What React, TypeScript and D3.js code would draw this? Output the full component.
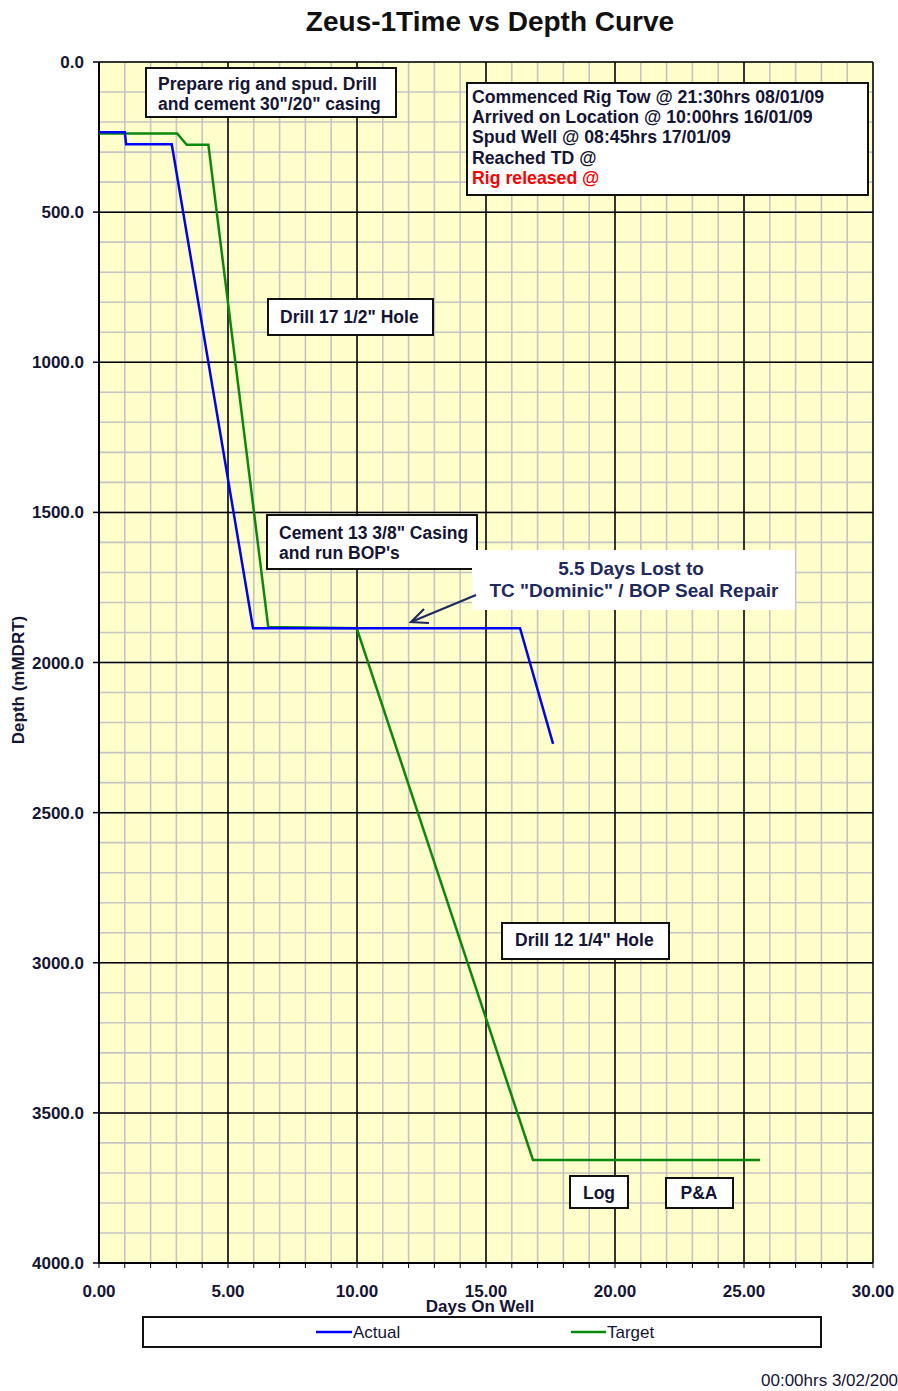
import * as d3 from "d3";

// Days on well / depth (mMDRT)
const actualDays = [0, 1.0, 1.05, 2.82, 5.97, 16.32, 17.6];
const actualDepth = [234, 234, 274, 274, 1886, 1886, 2271];

const targetDays = [0, 3.03, 3.4, 4.24, 6.56, 9.99, 16.82, 25.62];
const targetDepth = [238, 238, 276, 276, 1882, 1886, 3657, 3657];

const xTicks = [0, 5, 10, 15, 20, 25, 30];
const yTicks = [0, 500, 1000, 1500, 2000, 2500, 3000, 3500, 4000];

const infoLines = [
  "Commenced Rig Tow @ 21:30hrs 08/01/09",
  "Arrived on Location @ 10:00hrs 16/01/09",
  "Spud Well @ 08:45hrs 17/01/09",
  "Reached TD @",
  "Rig released @",
];

const W = 898;
const H = 1391;
const margin = { left: 99, top: 62, right: 25, bottom: 126 };
const FONT = "'Liberation Sans', Arial, sans-serif";
const TXT = "#151535";

// boxed notes: [x, y, w, h, lines, textX, first baseline]
const notes: [number, number, number, number, string[], number, number][] = [
  [146, 68, 250, 49, ["Prepare rig and spud. Drill", 'and cement 30"/20" casing'], 158, 90],
  [268, 299, 165, 36, ['Drill 17 1/2" Hole'], 280, 323],
  [267, 515, 210, 54, ['Cement 13 3/8" Casing', "and run BOP's"], 279, 539],
  [502, 923, 167, 36, ['Drill 12 1/4" Hole'], 515, 946],
];

export default function App() {
  const x = d3.scaleLinear().domain([0, 30]).range([margin.left, W - margin.right]);
  const y = d3.scaleLinear().domain([0, 4000]).range([margin.top, H - margin.bottom - 2]);
  const [x0, x1] = x.range();
  const [y0, y1] = y.range();

  const minorX = d3.range(0, 31, 1);
  const minorY = d3.range(0, 4001, 100);

  const line = d3
    .line<[number, number]>()
    .x((d) => x(d[0]))
    .y((d) => y(d[1]));
  const actual = actualDays.map((d, i) => [d, actualDepth[i]] as [number, number]);
  const target = targetDays.map((d, i) => [d, targetDepth[i]] as [number, number]);

  return (
    <svg
      width={W}
      height={H}
      style={{ position: "absolute", left: 0, top: 0, background: "#fff" }}
      fontFamily={FONT}
    >
      <text x={490} y={31} textAnchor="middle" fontSize={28} fontWeight="bold" fill="#111">
        Zeus-1Time vs Depth Curve
      </text>

      <rect x={x0} y={y0} width={x1 - x0} height={y1 - y0} fill="#ffffcc" />
      {minorX.map((d) => (
        <line key={"mx" + d} x1={x(d)} x2={x(d)} y1={y0} y2={y1} stroke="#c4c4c4" strokeWidth={1.6} />
      ))}
      {minorY.map((d) => (
        <line key={"my" + d} x1={x0} x2={x1} y1={y(d)} y2={y(d)} stroke="#c4c4c4" strokeWidth={1.6} />
      ))}
      {xTicks.map((d) => (
        <line key={"Mx" + d} x1={x(d)} x2={x(d)} y1={y0} y2={y1} stroke="#000" strokeWidth={1.5} />
      ))}
      {yTicks.map((d) => (
        <line key={"My" + d} x1={x0} x2={x1} y1={y(d)} y2={y(d)} stroke="#000" strokeWidth={1.5} />
      ))}
      {/* axes */}
      <line x1={x0} x2={x0} y1={y0} y2={y1 + 1} stroke="#000" strokeWidth={2} />
      <line x1={x0} x2={x1} y1={y1} y2={y1} stroke="#000" strokeWidth={2} />
      {minorX.map((d) => (
        <line key={"tx" + d} x1={x(d)} x2={x(d)} y1={y1} y2={y1 + 5} stroke="#000" strokeWidth={1} />
      ))}
      {yTicks.map((d) => (
        <g key={"ty" + d}>
          <line x1={x0 - 6} x2={x0} y1={y(d)} y2={y(d)} stroke="#000" strokeWidth={1.5} />
          <text x={84} y={y(d) + 6} textAnchor="end" fontSize={17} fontWeight="bold" fill={TXT}>
            {d3.format(".1f")(d)}
          </text>
        </g>
      ))}
      {xTicks.map((d) => (
        <text key={"lx" + d} x={x(d)} y={1297} textAnchor="middle" fontSize={17} fontWeight="bold" fill={TXT}>
          {d3.format(".2f")(d)}
        </text>
      ))}
      <text x={480} y={1312} textAnchor="middle" fontSize={17} fontWeight="bold" fill={TXT}>
        Days On Well
      </text>
      <text transform="translate(24,680) rotate(-90)" textAnchor="middle" fontSize={17} fontWeight="bold" fill={TXT}>
        Depth (mMDRT)
      </text>

      {/* series */}
      <path d={line(target) ?? ""} fill="none" stroke="#0a8a0a" strokeWidth={2.5} />
      <path d={line(actual) ?? ""} fill="none" stroke="#0000ff" strokeWidth={2.5} />

      {/* notes */}
      {notes.map(([bx, by, bw, bh, lines, tx, ty], i) => (
        <g key={"n" + i}>
          <rect x={bx} y={by} width={bw} height={bh} fill="#fff" stroke="#111" strokeWidth={2} />
          {lines.map((t, j) => (
            <text key={j} x={tx} y={ty + j * 20} fontSize={17.5} fontWeight="bold" fill={TXT}>
              {t}
            </text>
          ))}
        </g>
      ))}
      <rect x={570} y={1176} width={58} height={32} fill="#fff" stroke="#111" strokeWidth={2} />
      <text x={599} y={1199} textAnchor="middle" fontSize={17.5} fontWeight="bold" fill={TXT}>
        Log
      </text>
      <rect x={666} y={1178} width={67} height={30} fill="#fff" stroke="#111" strokeWidth={2} />
      <text x={699} y={1199} textAnchor="middle" fontSize={17.5} fontWeight="bold" fill={TXT}>
        P&amp;A
      </text>

      {/* info box */}
      <rect x={467} y={83} width={401} height={112} fill="#fff" stroke="#111" strokeWidth={2} />
      {infoLines.map((t, i) => (
        <text
          key={"i" + i}
          x={472}
          y={103 + i * 20.2}
          fontSize={17.7}
          fontWeight="bold"
          fill={i === infoLines.length - 1 ? "#ff0000" : TXT}
        >
          {t}
        </text>
      ))}

      {/* lost days callout */}
      <rect x={472} y={550} width={323} height={60} fill="#fff" />
      <text x={631} y={575} textAnchor="middle" fontSize={19} fontWeight="bold" fill="#1f2a5e">
        5.5 Days Lost to
      </text>
      <text x={634} y={597} textAnchor="middle" fontSize={19} fontWeight="bold" fill="#1f2a5e">
        TC "Dominic" / BOP Seal Repair
      </text>
      <line x1={476} y1={595} x2={411} y2={622} stroke="#1f2a5e" strokeWidth={2.2} />
      <path d="M424,609 L411,622 L429,623" fill="none" stroke="#1f2a5e" strokeWidth={2.2} />

      {/* legend */}
      <rect x={143} y={1317} width={678} height={30} fill="#fff" stroke="#111" strokeWidth={2} />
      <line x1={316} x2={352} y1={1332} y2={1332} stroke="#0000ff" strokeWidth={2.5} />
      <text x={353} y={1338} fontSize={17} fill={TXT}>Actual</text>
      <line x1={571} x2={606} y1={1332} y2={1332} stroke="#0a8a0a" strokeWidth={2.5} />
      <text x={607} y={1338} fontSize={17} fill={TXT}>Target</text>

      <text x={761} y={1386} fontSize={17} fill={TXT}>00:00hrs 3/02/2009</text>
    </svg>
  );
}
